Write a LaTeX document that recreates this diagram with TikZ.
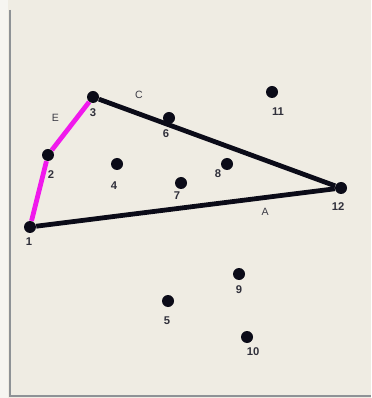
\documentclass[tikz,border=0pt]{standalone}
\usepackage{fontspec}
\setmainfont{Liberation Sans}
\usepackage{tikz}
\usetikzlibrary{positioning, calc}
\definecolor{gBack}{HTML}{EFECE3}
\definecolor{gEdge}{HTML}{F6F5F1}
\definecolor{gFrame}{HTML}{8E9296}
\definecolor{gDot}{HTML}{0B0B18}
\definecolor{gPink}{HTML}{F019EC}
\newlength{\px}
\setlength{\px}{0.025cm}

\tikzset{
  dot/.style={circle, fill=gDot, inner sep=0pt, minimum size=12\px},
  lbl/.style={font=\bfseries\fontsize{8}{9}\selectfont, inner sep=0.5pt, text=gDot!85},
  elbl/.style={font=\fontsize{7.5}{9}\selectfont, inner sep=1pt, text=gDot!80},
  lineA/.style={line width=3.4pt, draw=gDot},
  lineB/.style={line width=3.4pt, draw=gPink}
}

\begin{document}
\begin{tikzpicture}[x=0.025cm, y=-0.025cm]
  % tło i ramka okna
  \fill[gBack] (0,0) rectangle (371,398);
  \fill[gEdge] (0,0) rectangle (8,398);
  \draw[gFrame, line width=1.4pt] (10,10) -- (10,396) -- (371,396);
  \useasboundingbox (0,0) rectangle (371,398);
  % punkty grafu (etykiety pod punktami)
  \node[dot, label={[lbl, label distance=2.2pt, xshift=-1\px]below:1}]  (p1)  at (30,227) {};
  \node[dot, label={[lbl, label distance=5.8pt, xshift=3\px]below:2}]   (p2)  at (48,155) {};
  \node[dot, label={[lbl, label distance=3pt]below:3}]                  (p3)  at (93,97)  {};
  \node[dot, label={[lbl, label distance=7.2pt, xshift=-3\px]below:4}]  (p4)  at (117,164) {};
  \node[dot, label={[lbl, label distance=5.8pt, xshift=-1\px]below:5}]  (p5)  at (168,301) {};
  \node[dot, label={[lbl, label distance=3pt, xshift=-3\px]below:6}]    (p6)  at (169,118) {};
  \node[dot, label={[lbl, label distance=1pt, xshift=-4\px]below:7}]    (p7)  at (181,183) {};
  \node[dot, label={[lbl, label distance=-1.3pt, xshift=-9\px]below:8}] (p8)  at (227,164) {};
  \node[dot, label={[lbl, label distance=3pt]below:9}]                  (p9)  at (239,274) {};
  \node[dot, label={[lbl, label distance=2.2pt, xshift=6\px]below:10}]  (p10) at (247,337) {};
  \node[dot, label={[lbl, label distance=5.8pt, xshift=6\px]below:11}]  (p11) at (272,92)  {};
  \node[dot, label={[lbl, label distance=5pt, xshift=-3\px]below:12}]   (p12) at (341,188) {};
  % krawędzie
  \draw[lineA] (p1) -- node[elbl, pos=0.76, below=5pt, xshift=2\px] {A} (p12);
  \draw[lineA] (p3) -- node[elbl, pos=0.17, above=8pt] {C} (p12);
  \draw[lineB] (p1) -- (p2);
  \draw[lineB] (p2) -- node[elbl, pos=0.6, above left=2pt and 4pt, xshift=-6\px, yshift=-5pt] {E} (p3);
\end{tikzpicture}
\end{document}
